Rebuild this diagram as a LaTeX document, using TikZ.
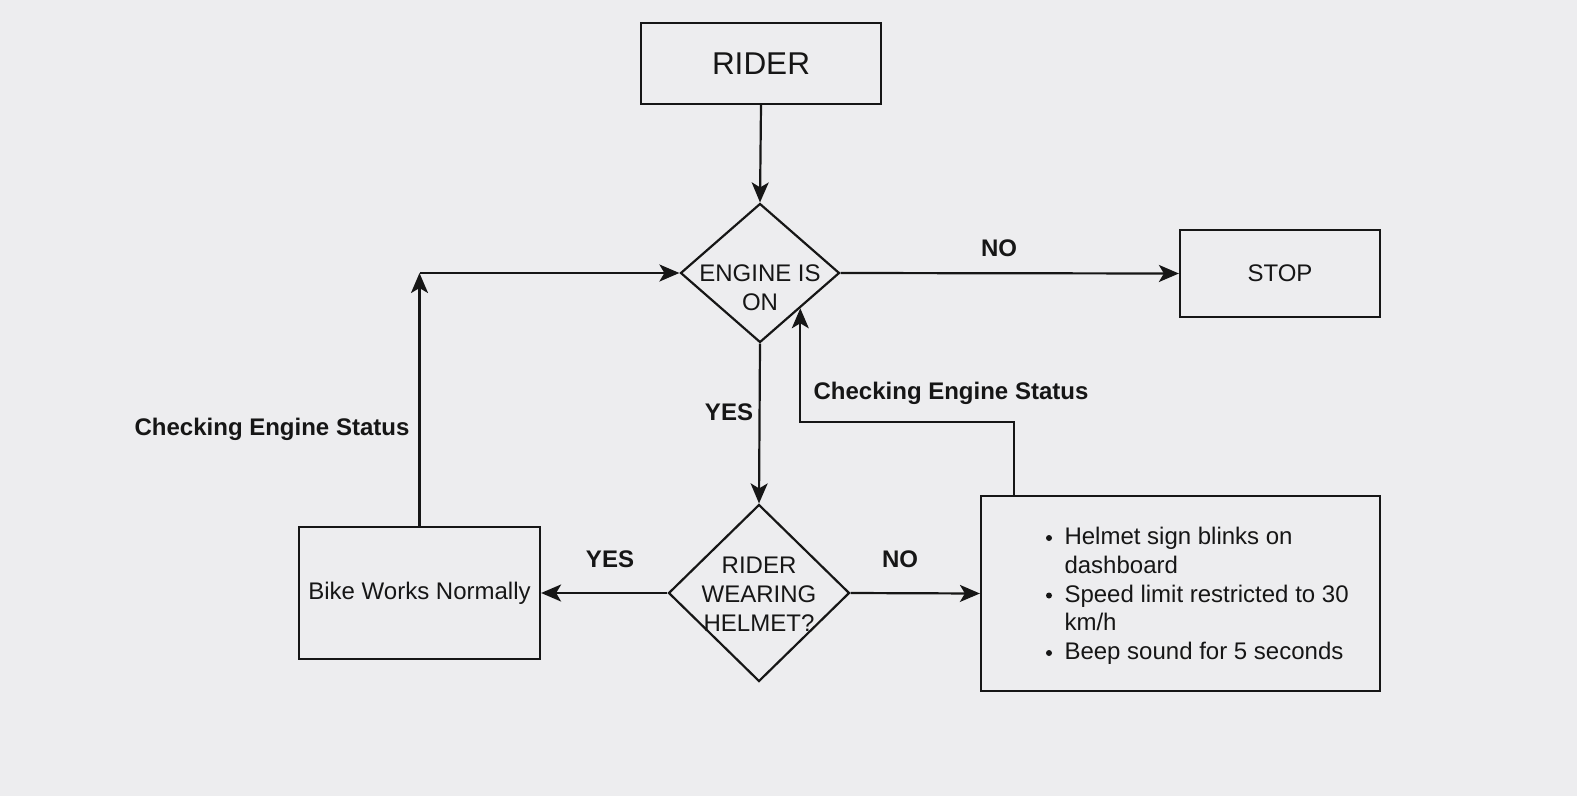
\documentclass[tikz,border=0pt]{standalone}
\usepackage{fontspec}
\setmainfont{Liberation Sans}
\usetikzlibrary{shapes.geometric,arrows.meta,calc}
\definecolor{bg}{RGB}{237,237,239}
\definecolor{ink}{RGB}{22,22,22}
\begin{document}
\begin{tikzpicture}[x=1pt,y=-1pt,
  box/.style={draw=ink, line width=2.2pt, inner sep=0pt, rectangle},
  dia/.style={draw=ink, line width=2.2pt, diamond, inner sep=0pt},
  txt/.style={text=ink, font=\fontsize{24}{29}\selectfont, align=center},
  lbl/.style={text=ink, font=\fontsize{24}{29}\selectfont\bfseries},
  arr/.style={draw=ink, line width=2.2pt, -{Stealth[length=20pt,width=17pt,inset=5pt]}},
]
\fill[bg] (0,0) rectangle (1577,796);
\useasboundingbox (0,0) rectangle (1577,796);

% nodes
\node[box, minimum width=240pt, minimum height=81pt, txt, font=\fontsize{31.5}{38}\selectfont] (rider) at (761,63.5) {RIDER};
\node[dia, minimum width=159pt, minimum height=139pt] (eng) at (760,273) {};
\node[txt] (engt) at (760,288) {ENGINE IS\\ON};
\node[box, minimum width=200pt, minimum height=87pt, txt] (stop) at (1280,273.5) {STOP};
\node[dia, minimum width=181pt, minimum height=177pt] (helm) at (759,593) {};
\node[txt] (helmt) at (759,594) {RIDER\\WEARING\\HELMET?};
\node[box, minimum width=241pt, minimum height=132pt, txt] (bike) at (419.5,593) {Bike Works Normally};
\node[box, minimum width=399pt, minimum height=195pt] (hbox) at (1180.5,593.5) {};
\node[txt, align=left, anchor=west, font=\fontsize{24}{28.75}\selectfont] (hlist) at (1061,596)
  {Helmet sign blinks on\\dashboard\\Speed limit restricted to 30\\km/h\\Beep sound for 5 seconds};
\fill[ink] (1049,538) circle (3pt);
\fill[ink] (1049,595.5) circle (3pt);
\fill[ink] (1049,653) circle (3pt);

% connectors
\draw[arr] (rider.south) -- (eng.north);
\draw[arr] (eng.east) -- (stop.west);
\draw[arr] (eng.south) -- (helm.north);
\draw[arr] (helm.west) -- (bike.east);
\draw[arr] (helm.east) -- (hbox.west);
\coordinate (lc) at (bike.north |- eng.west);
\draw[arr] (bike.north) -- (lc);
\draw[arr] (lc) -- (eng.west);
\coordinate (r1) at ([xshift=34pt]hbox.north west);
\coordinate (r2) at (r1 |- 0,422);
\coordinate (r3) at (eng.south east |- 0,422);
\draw[arr] (r1) -- (r2) -- (r3) -- (eng.south east);

% labels
\node[lbl] (lno1) at (999,248) {NO};
\node[lbl] (lyes1) at (729,412) {YES};
\node[lbl] (lyes2) at (610,559) {YES};
\node[lbl] (lno2) at (900,559) {NO};
\node[lbl] (lchk1) at (272,429) {Checking Engine Status};
\node[lbl] (lchk2) at (951,393) {Checking Engine Status};
\end{tikzpicture}
\end{document}
